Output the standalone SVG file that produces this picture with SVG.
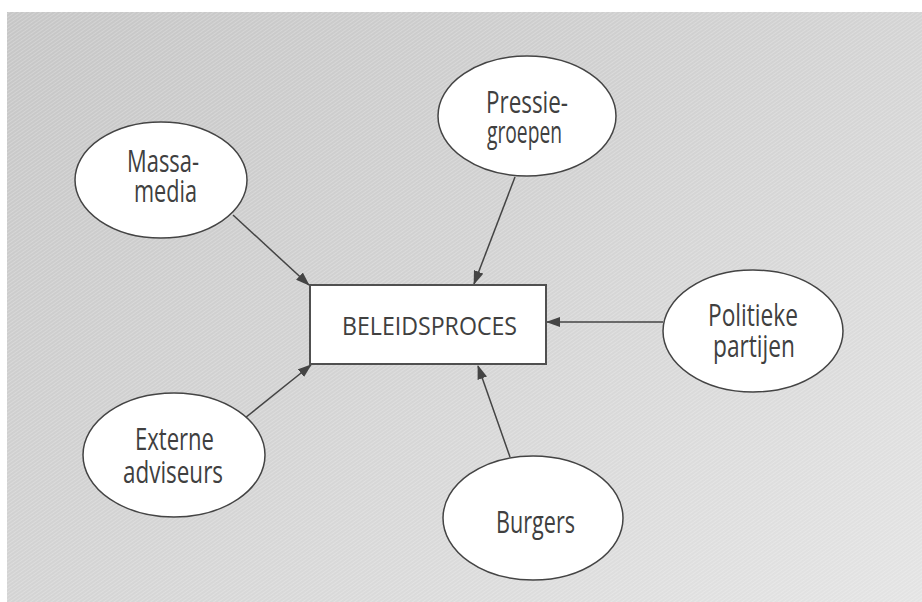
<svg xmlns="http://www.w3.org/2000/svg" width="922" height="602" viewBox="0 0 922 602">
  <defs>
    <linearGradient id="paper" x1="0" y1="0" x2="1" y2="1">
      <stop offset="0" stop-color="#c6c6c6"/>
      <stop offset="0.45" stop-color="#d2d2d2"/>
      <stop offset="1" stop-color="#e4e4e4"/>
    </linearGradient>
    <pattern id="grain" width="3" height="3" patternUnits="userSpaceOnUse" patternTransform="rotate(-35)">
      <line x1="0" y1="0.5" x2="3" y2="0.5" stroke="#ffffff" stroke-opacity="0.22" stroke-width="1"/>
    </pattern>
    <marker id="arrow" viewBox="0 0 14 10" refX="13" refY="5" markerWidth="14" markerHeight="10" markerUnits="userSpaceOnUse" orient="auto">
      <path d="M0,0 L14,5 L0,10 z" fill="#444444"/>
    </marker>
  </defs>
  <style>
    .node ellipse { fill: #ffffff; stroke: #444444; stroke-width: 1.5; }
    .node rect { fill: #ffffff; stroke: #505050; stroke-width: 2; }
    .node text { font-family: "Open Sans", "Noto Sans", "Liberation Sans", sans-serif; font-size: 31px; fill: #404040; text-anchor: middle; }
    .node .main { font-size: 25px; }
    #connectors line { stroke: #444444; stroke-width: 1.5; marker-end: url(#arrow); }
  </style>

  <!-- scanned page background -->
  <rect x="0" y="0" width="922" height="602" fill="#ffffff"/>
  <rect x="7" y="12" width="915" height="590" fill="url(#paper)"/>
  <rect x="7" y="12" width="915" height="590" fill="url(#grain)"/>

  <g id="connectors">
    <line x1="233" y1="215" x2="309" y2="285"/>
    <line x1="515" y1="177" x2="474" y2="284"/>
    <line x1="663" y1="322" x2="547" y2="322"/>
    <line x1="245" y1="418" x2="311" y2="365"/>
    <line x1="510" y1="457" x2="478" y2="366"/>
  </g>

  <g id="beleidsproces" class="node">
    <rect x="310" y="285" width="236" height="79"/>
    <text class="main" x="429.5" y="335" textLength="175" lengthAdjust="spacingAndGlyphs">BELEIDSPROCES</text>
  </g>

  <g id="massamedia" class="node">
    <ellipse cx="161" cy="180" rx="86" ry="58"/>
    <text x="163" y="172" textLength="72" lengthAdjust="spacingAndGlyphs">Massa-</text>
    <text x="165.5" y="202" textLength="63" lengthAdjust="spacingAndGlyphs">media</text>
  </g>

  <g id="pressiegroepen" class="node">
    <ellipse cx="527" cy="116" rx="89" ry="60"/>
    <text x="527" y="113" textLength="82" lengthAdjust="spacingAndGlyphs">Pressie-</text>
    <text x="524.5" y="143" textLength="75" lengthAdjust="spacingAndGlyphs">groepen</text>
  </g>

  <g id="politiekepartijen" class="node">
    <ellipse cx="753" cy="331" rx="90" ry="61"/>
    <text x="753" y="326" textLength="90" lengthAdjust="spacingAndGlyphs">Politieke</text>
    <text x="754" y="357" textLength="82" lengthAdjust="spacingAndGlyphs">partijen</text>
  </g>

  <g id="externeadviseurs" class="node">
    <ellipse cx="174" cy="455" rx="91" ry="62"/>
    <text x="174.5" y="450" textLength="79" lengthAdjust="spacingAndGlyphs">Externe</text>
    <text x="173" y="483" textLength="100" lengthAdjust="spacingAndGlyphs">adviseurs</text>
  </g>

  <g id="burgers" class="node">
    <ellipse cx="533" cy="518" rx="90" ry="62"/>
    <text x="535.5" y="533" textLength="79" lengthAdjust="spacingAndGlyphs">Burgers</text>
  </g>
</svg>
